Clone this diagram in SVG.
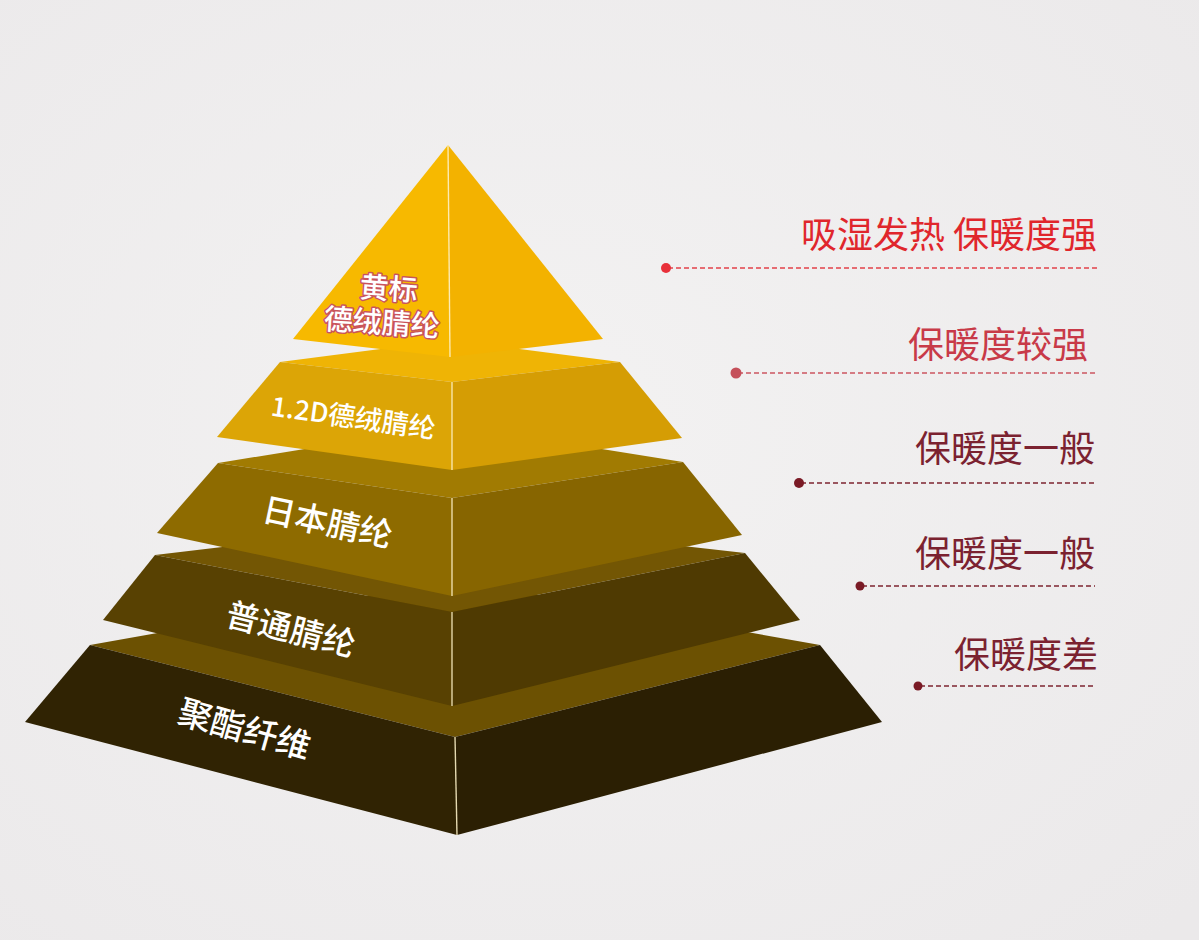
<svg xmlns="http://www.w3.org/2000/svg" width="1199" height="940" viewBox="0 0 1199 940">
<defs>
<style>
.lbl{font-family:"Noto Sans CJK SC","Noto Sans",sans-serif;font-weight:500;fill:#ffffff;text-anchor:middle}
.top{stroke:#c9545c;stroke-width:3;paint-order:stroke;stroke-linejoin:round}
.rt{font-family:"Noto Sans CJK SC","Noto Sans",sans-serif;font-size:36px;text-anchor:end}
.dash{stroke-width:1.6;stroke-dasharray:5 3;fill:none}
.mid{stroke:#fff3c8;stroke-width:1.4;opacity:0.85}
</style>
<radialGradient id="bg" cx="0.45" cy="0.45" r="0.75">
<stop offset="0" stop-color="#f3f2f2"/>
<stop offset="1" stop-color="#ebe9ea"/>
</radialGradient>
</defs>
<rect width="1199" height="940" fill="url(#bg)"/>

<g id="layer5">
<polygon points="90,645 455,580 820,645 455,737" fill="#6c5102"/>
<polygon points="90,645 455,737 457,835 25,722" fill="#302303"/>
<polygon points="455,737 820,645 882,722 457,835" fill="#2b1f03"/>
<line class="mid" x1="455" y1="737" x2="457" y2="835"/>
<text class="lbl" font-size="34" transform="translate(241,741) rotate(16)">聚酯纤维</text>
</g>

<g id="layer4">
<polygon points="155,555 452,520 745,553 452,612" fill="#735604"/>
<polygon points="155,555 452,612 452,706 103,620" fill="#584102"/>
<polygon points="452,612 745,553 800,620 452,706" fill="#4f3a02"/>
<line class="mid" x1="452" y1="612" x2="452" y2="706"/>
<text class="lbl" font-size="33" transform="translate(288,641) rotate(14)">普通腈纶</text>
</g>

<g id="layer3">
<polygon points="218,463 452,425 683,462 452,498" fill="#a17b02"/>
<polygon points="218,463 452,498 452,596 157,533" fill="#8e6b00"/>
<polygon points="452,498 683,462 742,535 452,596" fill="#876500"/>
<line class="mid" x1="452" y1="498" x2="452" y2="596"/>
<text class="lbl" font-size="33" transform="translate(325,534) rotate(12)">日本腈纶</text>
</g>

<g id="layer2">
<polygon points="280,362 450,340 620,362 452,382" fill="#efb405"/>
<polygon points="280,362 452,382 452,470 217,437" fill="#dca506"/>
<polygon points="452,382 620,362 682,438 452,470" fill="#d59d04"/>
<line class="mid" x1="452" y1="382" x2="452" y2="470"/>
<text class="lbl" font-size="27" transform="translate(352,427) rotate(8)">1.2D德绒腈纶</text>
</g>

<g id="layer1">
<polygon points="448,145 293,339 450,357" fill="#f7b900"/>
<polygon points="448,145 603,339 450,357" fill="#f3b200"/>
<line class="mid" x1="448" y1="145" x2="450" y2="357"/>
<text class="lbl top" font-size="29" transform="translate(388,299) rotate(4)">黄标</text>
<text class="lbl top" font-size="29" transform="translate(381,333) rotate(4)">德绒腈纶</text>
</g>

<g id="connectors">
<line class="dash" x1="668" y1="268" x2="1100" y2="268" stroke="#e2414a"/>
<circle cx="666" cy="268" r="5" fill="#e8303a"/>
<line class="dash" x1="738" y1="373" x2="1098" y2="373" stroke="#cc5560"/>
<circle cx="736" cy="373" r="5.5" fill="#c5505a"/>
<line class="dash" x1="801" y1="483" x2="1096" y2="483" stroke="#7e2430"/>
<circle cx="799" cy="483" r="5" fill="#7a1a25"/>
<line class="dash" x1="862" y1="586" x2="1095" y2="586" stroke="#7e2430"/>
<circle cx="860" cy="586" r="4.5" fill="#7a1a25"/>
<line class="dash" x1="920" y1="686" x2="1093" y2="686" stroke="#7e2430"/>
<circle cx="918" cy="686" r="4.5" fill="#7a1a25"/>
</g>

<g id="label1"><text class="rt" x="1097" y="248" fill="#e0262c">吸湿发热 保暖度强</text></g>
<g id="label2"><text class="rt" x="1088" y="358" fill="#c83a48">保暖度较强</text></g>
<g id="label3"><text class="rt" x="1095" y="462" fill="#7b2230">保暖度一般</text></g>
<g id="label4"><text class="rt" x="1095" y="567" fill="#7b2230">保暖度一般</text></g>
<g id="label5"><text class="rt" x="1098" y="668" fill="#7b2230">保暖度差</text></g>
</svg>
